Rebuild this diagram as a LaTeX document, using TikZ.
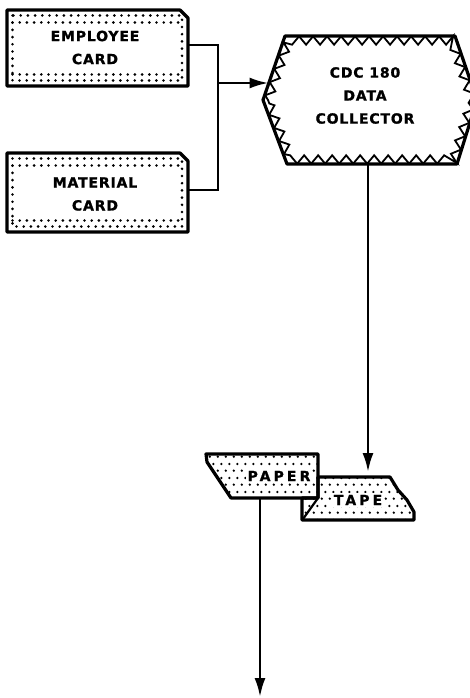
\documentclass[tikz,border=0pt]{standalone}
\usepackage{fontspec}
\newfontfamily\lblfont{DejaVu Sans}[LetterSpace=6,FakeBold=1.2]
\newfontfamily\widefont{DejaVu Sans}[LetterSpace=22,FakeBold=1.2]
\usetikzlibrary{arrows.meta,decorations.pathmorphing,patterns.meta}
\tikzdeclarepattern{
  name=bigdots,
  type=uncolored,
  bounding box={(0pt,0pt) and (8pt,14pt)},
  tile size={(8pt,14pt)},
  code={
    \pgfpathcircle{\pgfpoint{2pt}{3.5pt}}{1.4pt}
    \pgfpathcircle{\pgfpoint{6pt}{10.5pt}}{1.4pt}
    \pgfusepath{fill}
  }
}
\tikzset{
  outline/.style={line width=3.2pt, line join=round},
  dotrow/.style={line width=2.9pt, dash pattern=on 0pt off 7.2pt, line cap=round},
  lbl/.style={font=\lblfont\bfseries\fontsize{14}{23}\selectfont, align=center, inner sep=1pt},
  widelbl/.style={font=\widefont\bfseries\fontsize{14}{15}\selectfont, inner sep=1.5pt, fill=white},
  conn/.style={line width=2.6pt},
  arr/.style={conn, -{Latex[length=19pt,width=11pt]}},
  dotfill/.style={pattern=bigdots, pattern color=black},
  zig/.style={line width=1.8pt, decorate, decoration={zigzag, segment length=14pt, amplitude=4.2pt}}
}
\begin{document}
\begin{tikzpicture}[x=1pt,y=-1pt]
\useasboundingbox (0,0) rectangle (470,698);
\clip (0,0) rectangle (470,698);

% employee card
\draw[outline] (7,10) -- (180,10) -- (188,18) -- (188,86) -- (7,86) -- cycle;
\draw[dotrow] (12.5,15.5) rectangle (182,80.5);
\draw[dotrow] (12.5,22.5) -- (182,22.5);
\draw[dotrow] (12.5,74.5) -- (182,74.5);
\node[lbl] (emp) at (95,47.5) {EMPLOYEE\\CARD};

% material card
\draw[outline] (7,153) -- (180,153) -- (188,161) -- (188,232) -- (7,232) -- cycle;
\draw[dotrow] (12.5,158.5) rectangle (182,226.5);
\draw[dotrow] (12.5,165.5) -- (182,165.5);
\draw[dotrow] (12.5,220.5) -- (182,220.5);
\node[lbl] (mat) at (95,194) {MATERIAL\\CARD};

% data collector
\draw[outline] (263,100) -- (285,36) -- (455,36) -- (477,100) -- (457,164) -- (287,164) -- cycle;
\draw[zig] (268,100) -- (288.5,40.5) -- (451.5,40.5) -- (472,100) -- (453.5,159.5) -- (290.5,159.5) -- cycle;
\node[lbl] (cdc) at (365,95.5) {CDC 180\\DATA\\COLLECTOR};

% connectors top
\coordinate (empE) at (189,45);
\coordinate (matE) at (189,190);
\coordinate (jn) at (218,83);
\coordinate (cdcW) at (268.5,83);
\draw[conn] (empE) -| (jn) |- (matE);
\draw[arr] (jn) -- (cdcW);

\coordinate (cdcS) at (368,165);
\coordinate (tapeN) at (368,472);
\draw[arr] (cdcS) -- (tapeN);

% tape
\draw[outline, dotfill] (318,477) -- (390,477) -- (398,490) -- (407,500) -- (414,512) -- (414,520) -- (302,520) -- (302,498) -- (318,498) -- cycle;
\draw[line width=2.2pt] (318,498) -- (303,519);
\node[widelbl] (tape) at (358,500) {TAPE};

% paper
\draw[outline, dotfill] (206,454) -- (318,454) -- (318,498) -- (231,498) -- (207,462) -- cycle;
\node[widelbl] (paper) at (279,476) {PAPER};

\coordinate (paperS) at (260,498);
\coordinate (outS) at (260,697);
\draw[arr] (paperS) -- (outS);
\end{tikzpicture}
\end{document}
